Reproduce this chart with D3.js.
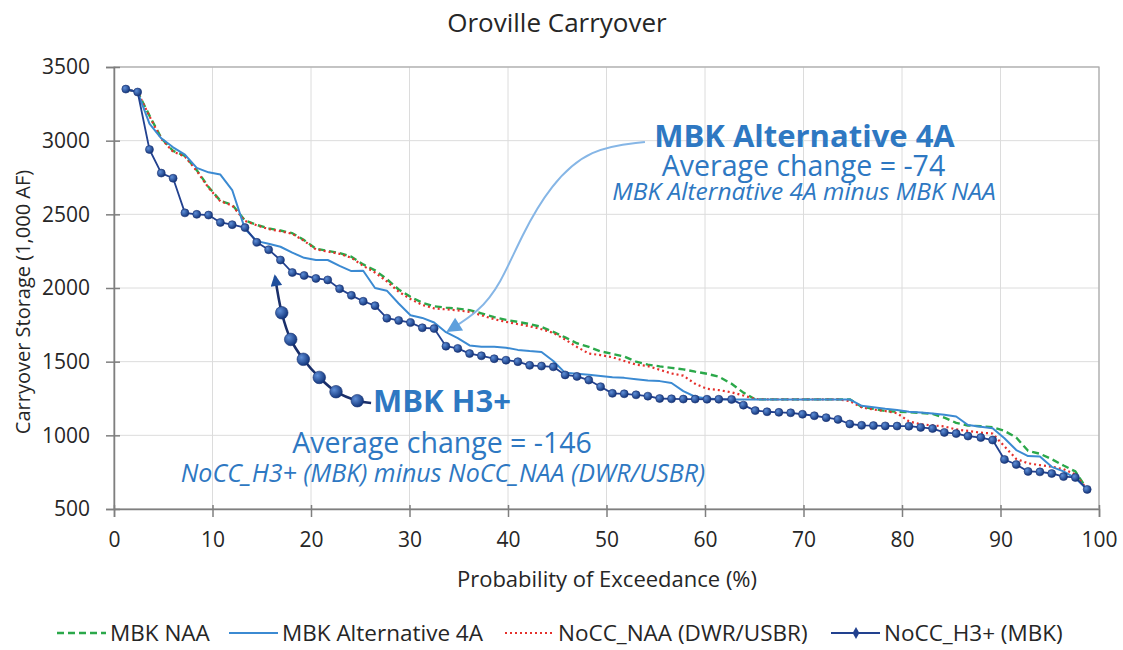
<!DOCTYPE html>
<html>
<head>
<meta charset="utf-8">
<script src="https://cdn.jsdelivr.net/npm/d3@7"></script>
<style>
  body { margin: 0; background: #fff; }
  svg text { font-family: "Open Sans", sans-serif; }
</style>
</head>
<body>
<svg id="chart" width="1123" height="650"></svg>
<script>
// probability of exceedance (%) for the 82 ranked years
const exceedance = [
  1.2, 2.4, 3.6, 4.8, 6.0, 7.2, 8.4, 9.6, 10.8, 12.0,
  13.3, 14.5, 15.7, 16.9, 18.1, 19.3, 20.5, 21.7, 22.9, 24.1,
  25.3, 26.5, 27.7, 28.9, 30.1, 31.3, 32.5, 33.7, 34.9, 36.1,
  37.3, 38.6, 39.8, 41.0, 42.2, 43.4, 44.6, 45.8, 47.0, 48.2,
  49.4, 50.6, 51.8, 53.0, 54.2, 55.4, 56.6, 57.8, 59.0, 60.2,
  61.4, 62.7, 63.9, 65.1, 66.3, 67.5, 68.7, 69.9, 71.1, 72.3,
  73.5, 74.7, 75.9, 77.1, 78.3, 79.5, 80.7, 81.9, 83.1, 84.3,
  85.5, 86.7, 88.0, 89.2, 90.4, 91.6, 92.8, 94.0, 95.2, 96.4,
  97.6, 98.8
];

// carryover storage, 1,000 AF
const mbkNaa = [
  3350, 3330, 3170, 3018, 2930, 2897, 2800, 2685, 2592, 2565,
  2458, 2428, 2405, 2390, 2372, 2325, 2267, 2252, 2237, 2212,
  2160, 2120, 2060, 1990, 1940, 1900, 1876, 1867, 1860, 1850,
  1828, 1802, 1784, 1770, 1755, 1736, 1702, 1665, 1625, 1600,
  1570, 1553, 1535, 1500, 1480, 1468, 1458, 1448, 1432, 1418,
  1398, 1350, 1290, 1244, 1244, 1244, 1244, 1244, 1244, 1244,
  1244, 1244, 1195, 1180, 1165, 1160, 1158, 1152, 1145, 1120,
  1085, 1067, 1062, 1055, 1030, 985, 895, 875, 838, 795,
  755, 633
];
const mbkAlt4a = [
  3350, 3330, 3115, 3016, 2955, 2905, 2815, 2785, 2770, 2665,
  2400, 2318, 2300, 2280, 2240, 2205, 2190, 2190, 2150, 2115,
  2117, 2000, 1982, 1895, 1815, 1797, 1766, 1700, 1660, 1610,
  1601, 1601, 1595, 1580, 1572, 1566, 1505, 1424, 1418, 1412,
  1403, 1394, 1390, 1381, 1372, 1368, 1355, 1300, 1262, 1250,
  1245, 1244, 1244, 1244, 1244, 1244, 1244, 1244, 1244, 1244,
  1244, 1244, 1200, 1190, 1180, 1172, 1160, 1155, 1148, 1140,
  1128, 1070, 1058, 1048, 980, 900, 859, 857, 786, 755,
  710, 633
];
const noccNaa = [
  3350, 3330, 3165, 3012, 2925, 2892, 2795, 2680, 2588, 2560,
  2455, 2425, 2400, 2385, 2368, 2320, 2262, 2247, 2232, 2205,
  2150, 2105, 2045, 1975, 1925, 1885, 1862, 1855, 1848, 1838,
  1815, 1788, 1770, 1755, 1740, 1720, 1695, 1650, 1600, 1555,
  1545, 1530, 1505, 1480, 1470, 1445, 1420, 1405, 1350, 1316,
  1307, 1292, 1270, 1247, 1244, 1244, 1244, 1244, 1244, 1244,
  1244, 1232, 1190, 1175, 1165, 1150, 1095, 1075, 1068, 1060,
  1040, 1030, 1018, 1012, 925, 840, 810, 798, 787, 770,
  735, 633
];
const noccH3 = [
  3350, 3330, 2940, 2780, 2745, 2510, 2500, 2495, 2445, 2430,
  2410, 2310, 2260, 2190, 2105, 2085, 2065, 2055, 1995, 1950,
  1910, 1880, 1795, 1780, 1765, 1730, 1725, 1605, 1590, 1555,
  1540, 1520, 1510, 1500, 1475, 1470, 1465, 1410, 1400, 1375,
  1330, 1285, 1282, 1275, 1266, 1250, 1248, 1246, 1246, 1245,
  1245, 1244, 1205, 1168, 1160, 1156, 1153, 1143, 1133, 1120,
  1108, 1077, 1068, 1066, 1064, 1063, 1062, 1054, 1046, 1020,
  1012, 995, 985, 968, 836, 802, 755, 752, 741, 720,
  714, 633
];

const xTicks = [0, 10, 20, 30, 40, 50, 60, 70, 80, 90, 100];
const yTicks = [500, 1000, 1500, 2000, 2500, 3000, 3500];

// annotation call-outs, in chart units [exceedance %, storage]
const alt4aArrow = [[53.9, 2991], [48.3, 2950], [44.3, 2699], [41.4, 2360], [39.2, 2020], [37.0, 1837], [34.0, 1712]];
const h3Callout = [[26.1, 1220], [24.7, 1235], [22.54, 1296], [20.84, 1393], [19.22, 1516], [17.94, 1651], [17.03, 1832], [16.35, 2077]];
const h3Balls = [[24.7, 1235], [22.54, 1296], [20.84, 1393], [19.22, 1516], [17.94, 1651], [17.03, 1832]];

const margin = { top: 67, right: 24, bottom: 141, left: 114 };
const width = 1123 - margin.left - margin.right;
const height = 650 - margin.top - margin.bottom;

const svg = d3.select('#chart');
const defs = svg.append('defs');

defs.append('marker').attr('id', 'arrowLight').attr('viewBox', '0 0 10 10')
  .attr('refX', 8).attr('refY', 5).attr('markerWidth', 9).attr('markerHeight', 7.5)
  .attr('markerUnits', 'strokeWidth').attr('orient', 'auto')
  .append('path').attr('d', 'M0,0 L10,5 L0,10 Z').attr('fill', '#5e9fdc');

defs.append('marker').attr('id', 'arrowDark').attr('viewBox', '0 0 10 10')
  .attr('refX', 8).attr('refY', 5).attr('markerWidth', 5).attr('markerHeight', 4.5)
  .attr('markerUnits', 'strokeWidth').attr('orient', 'auto')
  .append('path').attr('d', 'M0,0 L10,5 L0,10 Z').attr('fill', '#1f4e9c');

const ball = defs.append('radialGradient').attr('id', 'ball').attr('cx', '35%').attr('cy', '35%').attr('r', '65%');
ball.append('stop').attr('offset', '0%').attr('stop-color', '#5f8fd8');
ball.append('stop').attr('offset', '100%').attr('stop-color', '#15387e');

const g = svg.append('g').attr('transform', `translate(${margin.left},${margin.top})`);

const x = d3.scaleLinear().domain([0, 100]).range([0, width]);
const y = d3.scaleLinear().domain([500, 3500]).range([height, 0]);

// grid
g.append('g').selectAll('line').data(xTicks).enter().append('line')
  .attr('x1', d => x(d)).attr('x2', d => x(d)).attr('y1', 0).attr('y2', height)
  .attr('stroke', '#dcdcdc').attr('stroke-width', 1);
g.append('g').selectAll('line').data(yTicks).enter().append('line')
  .attr('x1', 0).attr('x2', width).attr('y1', d => y(d)).attr('y2', d => y(d))
  .attr('stroke', '#dcdcdc').attr('stroke-width', 1);
g.append('rect').attr('width', width).attr('height', height)
  .attr('fill', 'none').attr('stroke', '#a8a8a8').attr('stroke-width', 1.2);

// axes
const xAxis = g.append('g').attr('transform', `translate(0,${height})`)
  .call(d3.axisBottom(x).tickValues(xTicks).tickSizeOuter(0).tickSize(8).tickPadding(15));
const yAxis = g.append('g')
  .call(d3.axisLeft(y).tickValues(yTicks).tickFormat(d3.format('d')).tickSizeOuter(0).tickSize(8).tickPadding(16));
[xAxis, yAxis].forEach(ax => {
  ax.select('.domain').attr('stroke', '#7f7f7f').attr('stroke-width', 1.5);
  ax.selectAll('.tick line').attr('stroke', '#7f7f7f').attr('stroke-width', 1.5);
  ax.selectAll('.tick text').attr('font-family', '"Open Sans", sans-serif')
    .attr('font-size', 21).attr('fill', '#262626');
});
yAxis.selectAll('.tick line').attr('x2', -8).attr('x1', 6);
xAxis.selectAll('.tick line').attr('y1', -4);

// series
const line = d3.line().x((d, i) => x(exceedance[i])).y(d => y(d));
const series = [
  { name: 'MBK NAA', values: mbkNaa, color: '#2ba84a', width: 2.4, dash: '7,4' },
  { name: 'NoCC_NAA (DWR/USBR)', values: noccNaa, color: '#e5302c', width: 2.2, dash: '2,3' },
  { name: 'MBK Alternative 4A', values: mbkAlt4a, color: '#3b8ad2', width: 2, dash: null },
  { name: 'NoCC_H3+ (MBK)', values: noccH3, color: '#22418f', width: 1.8, dash: null },
];
series.forEach(s => {
  g.append('path').datum(s.values).attr('d', line)
    .attr('fill', 'none').attr('stroke', s.color).attr('stroke-width', s.width)
    .attr('stroke-dasharray', s.dash).attr('stroke-linejoin', 'round');
});
g.append('g').selectAll('circle').data(noccH3).enter().append('circle')
  .attr('cx', (d, i) => x(exceedance[i])).attr('cy', d => y(d)).attr('r', 4)
  .attr('fill', 'url(#ball)').attr('stroke', '#1b3272').attr('stroke-width', 0.6);

// Alternative 4A call-out
g.append('path').datum(alt4aArrow)
  .attr('d', d3.line().x(d => x(d[0])).y(d => y(d[1])).curve(d3.curveBasis))
  .attr('fill', 'none').attr('stroke', '#86b6e6').attr('stroke-width', 2)
  .attr('marker-end', 'url(#arrowLight)');
const blue = '#2e78c2';
g.append('text').attr('x', x(70.1)).attr('y', y(2955)).attr('text-anchor', 'middle')
  .attr('font-family', 'Lato, sans-serif').attr('font-weight', 'bold').attr('font-size', 31)
  .attr('fill', blue).text('MBK Alternative 4A');
g.append('text').attr('x', x(70.0)).attr('y', y(2760)).attr('text-anchor', 'middle')
  .attr('font-family', 'Lato, sans-serif').attr('font-size', 28.5)
  .attr('fill', blue).text('Average change = -74');
g.append('text').attr('x', x(70.05)).attr('y', y(2597)).attr('text-anchor', 'middle')
  .attr('font-family', 'Lato, sans-serif').attr('font-style', 'italic').attr('font-size', 24.5)
  .attr('fill', blue).text('MBK Alternative 4A minus MBK NAA');

// H3+ call-out
g.append('path').datum(h3Callout)
  .attr('d', d3.line().x(d => x(d[0])).y(d => y(d[1])).curve(d3.curveCatmullRom))
  .attr('fill', 'none').attr('stroke', '#1a2f6a').attr('stroke-width', 2.6)
  .attr('marker-end', 'url(#arrowDark)');
g.append('g').selectAll('circle').data(h3Balls).enter().append('circle')
  .attr('cx', d => x(d[0])).attr('cy', d => y(d[1])).attr('r', 6.3)
  .attr('fill', 'url(#ball)').attr('stroke', '#153170').attr('stroke-width', 0.6);
g.append('text').attr('x', x(26.3)).attr('y', y(1158)).attr('text-anchor', 'start')
  .attr('font-family', 'Lato, sans-serif').attr('font-weight', 'bold').attr('font-size', 31)
  .attr('fill', blue).text('MBK H3+');
g.append('text').attr('x', x(33.3)).attr('y', y(880)).attr('text-anchor', 'middle')
  .attr('font-family', 'Lato, sans-serif').attr('font-size', 28.5)
  .attr('fill', blue).text('Average change = -146');
g.append('text').attr('x', x(33.4)).attr('y', y(683)).attr('text-anchor', 'middle')
  .attr('font-family', 'Lato, sans-serif').attr('font-style', 'italic').attr('font-size', 25)
  .attr('fill', blue).text('NoCC_H3+ (MBK) minus NoCC_NAA (DWR/USBR)');

// titles
svg.append('text').attr('x', 557).attr('y', 32).attr('text-anchor', 'middle')
  .attr('font-size', 26).attr('fill', '#262626').text('Oroville Carryover');
svg.append('text').attr('x', 607).attr('y', 587).attr('text-anchor', 'middle')
  .attr('font-size', 22).attr('fill', '#262626').text('Probability of Exceedance (%)');
svg.append('text').attr('transform', 'translate(30,302) rotate(-90)').attr('text-anchor', 'middle')
  .attr('font-size', 20).attr('fill', '#262626').text('Carryover Storage (1,000 AF)');

// legend
const legendItems = [
  { s: series[0], x0: 57 },
  { s: series[2], x0: 229 },
  { s: series[1], x0: 505 },
  { s: series[3], x0: 831 },
];
const legend = svg.append('g').attr('transform', 'translate(0,633)');
legendItems.forEach(it => {
  legend.append('line').attr('x1', it.x0).attr('x2', it.x0 + 49).attr('y1', 0).attr('y2', 0)
    .attr('stroke', it.s.color).attr('stroke-width', it.s.width).attr('stroke-dasharray', it.s.dash);
  if (it.s.values === noccH3) {
    legend.append('path').attr('d', d3.symbol(d3.symbolDiamond, 40)())
      .attr('transform', `translate(${it.x0 + 25},0)`).attr('fill', '#22418f');
  }
  legend.append('text').attr('x', it.x0 + 53).attr('y', 8)
    .attr('font-family', 'Lato, sans-serif').attr('font-size', 22.5).attr('fill', '#262626')
    .text(it.s.name);
});
</script>
</body>
</html>
